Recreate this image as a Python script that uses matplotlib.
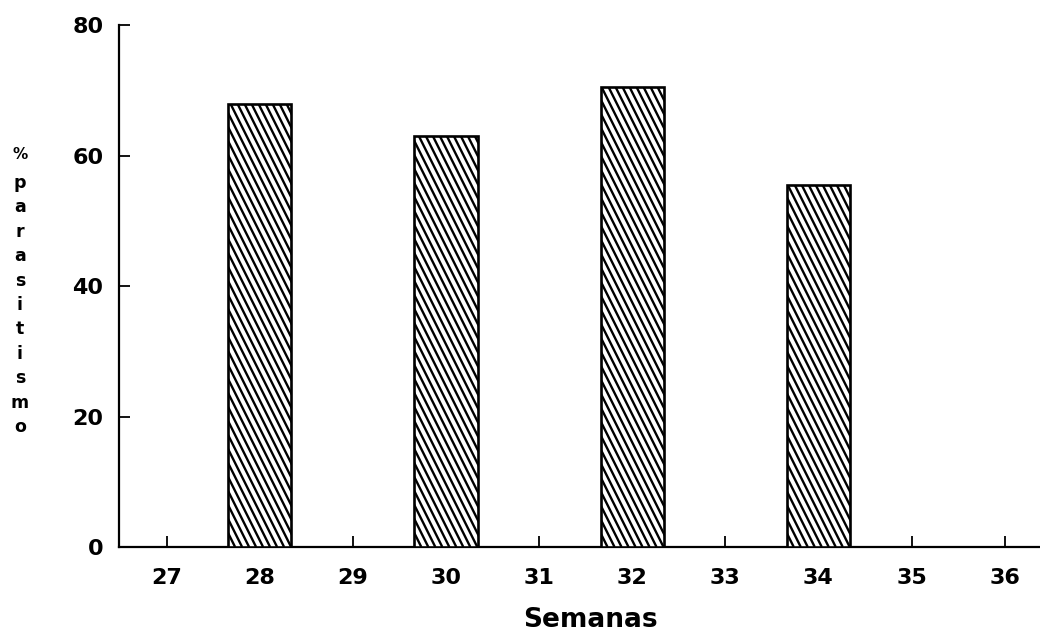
import matplotlib
matplotlib.use("Agg")
import matplotlib.pyplot as plt
from matplotlib.collections import LineCollection

# porcentaje de parasitismo por semana
semanas = [27, 28, 29, 30, 31, 32, 33, 34, 35, 36]
semanas_con_datos = [28, 30, 32, 34]
parasitismo = [68, 63, 70.5, 55.5]
yticks = [0, 20, 40, 60, 80]
ylabel_letras = list("parasitismo")

plt.rcParams["font.family"] = ["DejaVu Sans"]

fig = plt.figure(figsize=(10.4, 6.39), dpi=100)
ax = fig.add_axes([118.7 / 1040, 1 - 547 / 639, 1 - 118.7 / 1040, (547 - 25.3) / 639])

barras = ax.bar(semanas_con_datos, parasitismo, width=0.68,
                facecolor="white", edgecolor="black", linewidth=1.9, zorder=3)

ax.set_xlim(26.485, 36.38)
ax.set_ylim(0, 80)
ax.set_xticks(semanas)
ax.set_xticklabels([str(s) for s in semanas], fontsize=16, fontweight="bold")
ax.set_yticks(yticks)
ax.set_yticklabels([str(v) for v in yticks], fontsize=16, fontweight="bold")
ax.tick_params(axis="x", direction="in", length=8, width=1.3, pad=15)
ax.tick_params(axis="y", direction="in", length=8, width=1.3, pad=11)

for lado in ["top", "right"]:
    ax.spines[lado].set_visible(False)
for lado in ["left", "bottom"]:
    ax.spines[lado].set_linewidth(1.6)

# rayado inclinado dentro de cada barra (mas empinado que el hatch de 45 grados)
paso = 7.0
for barra in barras:
    x0, y0 = ax.transData.transform((barra.get_x(), 0))
    x1, y1 = ax.transData.transform((barra.get_x() + barra.get_width(), barra.get_height()))
    alto = y1 - y0
    segmentos = []
    c = x0 - alto / 2 - paso
    while c < x1 + paso:
        p0 = ax.transData.inverted().transform((c, y1))
        p1 = ax.transData.inverted().transform((c + alto / 2, y0))
        segmentos.append([p0, p1])
        c += paso
    lc = LineCollection(segmentos, colors="black", linewidths=1.7, zorder=4)
    ax.add_collection(lc)
    lc.set_clip_path(barra)

fig.text(590 / 1040, 1 - 620 / 639, "Semanas", fontsize=19, fontweight="bold",
         ha="center", va="center")

# etiqueta vertical letra por letra
fig.text(20 / 1040, 1 - 155 / 639, "%", fontsize=11, fontweight="bold",
         ha="center", va="center")
for i, letra in enumerate(ylabel_letras):
    fig.text(20 / 1040, 1 - (183 + i * 24.4) / 639, letra, fontsize=12.5,
             fontweight="bold", ha="center", va="center")

fig.savefig("out.png", dpi=100)
